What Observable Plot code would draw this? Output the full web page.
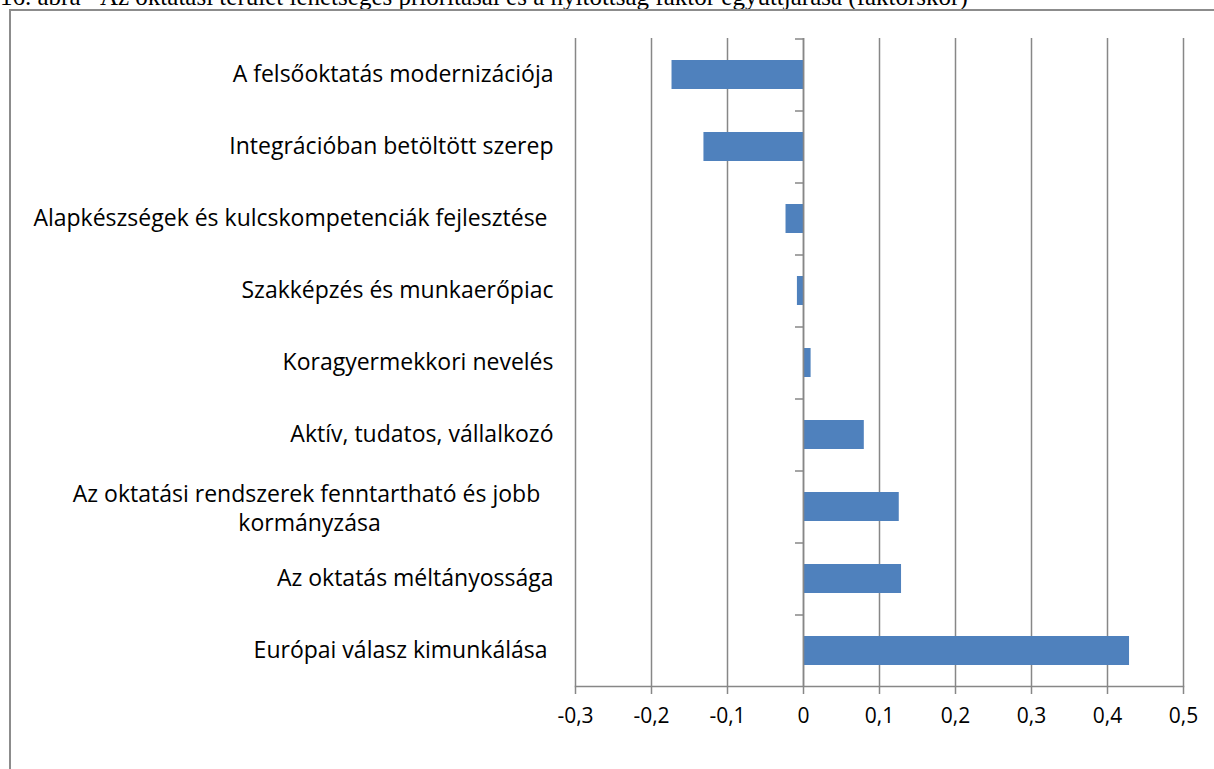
<!DOCTYPE html>
<html>
<head>
<meta charset="utf-8">
<script src="https://cdn.jsdelivr.net/npm/d3@7"></script>
<script src="https://cdn.jsdelivr.net/npm/@observablehq/plot@0.6"></script>
<style>
  html, body { margin: 0; padding: 0; background: #fff; overflow: hidden; }
  #wrap { position: relative; width: 1214px; height: 769px; overflow: hidden; }
  #title { position: absolute; left: 0; top: -16px; font-family: "Liberation Serif", "Times New Roman", serif; font-size: 25px; line-height: 25px; white-space: nowrap; color: #000; }
  #frame { position: absolute; left: 9px; top: 9px; right: -10px; bottom: -10px; border: 2px solid #8c8c8c; }
  #chart { position: absolute; left: 0; top: 0; }
  .ylab text { white-space: pre; }
</style>
</head>
<body>
<div id="wrap">
  <div id="title">16. ábra - Az oktatási terület lehetséges prioritásai és a nyitottság faktor együttjárása (faktorskór)</div>
  <div id="frame"></div>
  <div id="chart"></div>
</div>
<script>
const categories = [
  "A felsőoktatás modernizációja",
  "Integrációban betöltött szerep",
  "Alapkészségek és kulcskompetenciák fejlesztése ",
  "Szakképzés és munkaerőpiac",
  "Koragyermekkori nevelés",
  "Aktív, tudatos, vállalkozó",
  "Az oktatási rendszerek fenntartható és jobb \nkormányzása",
  "Az oktatás méltányossága",
  "Európai válasz kimunkálása "
];
const values = [-0.173, -0.131, -0.023, -0.008, 0.010, 0.080, 0.126, 0.129, 0.429];
const xTicks = [-0.3, -0.2, -0.1, 0, 0.1, 0.2, 0.3, 0.4, 0.5];

const data = categories.map((c, i) => ({category: c, value: values[i]}));
const singleLine = data.filter(d => !d.category.includes("\n"));
const multiLine = data.filter(d => d.category.includes("\n"));

const W = 1214, H = 769;
const mT = 38, mB = 83, mL = 575, mR = 31;
const step = (H - mT - mB) / categories.length;
const grid = "#878787";
const fontFam = "'Open Sans', 'Noto Sans', sans-serif";
const fmt = d => String(Math.round(d * 10) / 10).replace(".", ",");

const chart = Plot.plot({
  width: W,
  height: H,
  marginTop: mT,
  marginBottom: mB,
  marginLeft: mL,
  marginRight: mR,
  style: {fontFamily: fontFam, background: "transparent", overflow: "visible"},
  x: {type: "linear", domain: [-0.3, 0.5], ticks: xTicks},
  y: {type: "band", domain: categories, paddingInner: 0.6, paddingOuter: 0.3, axis: null},
  marks: [
    Plot.gridX(xTicks, {stroke: grid, strokeOpacity: 1, strokeWidth: 1.5}),
    Plot.barX(data, {x: "value", y: "category", fill: "#4f81bd"}),
    Plot.ruleX([0], {stroke: grid, strokeWidth: 1.5}),
    Plot.ruleY(categories, {y: d => d, x1: 0, x2: 0, insetLeft: -8, dy: -step / 2, stroke: grid, strokeWidth: 1.5}),
    Plot.frame({anchor: "bottom", stroke: grid, strokeWidth: 1.5}),
    Plot.axisX({ticks: xTicks, tickFormat: fmt, tickSize: 8, tickPadding: 14, stroke: grid, strokeWidth: 1.5, strokeOpacity: 1, fontSize: 21, fill: "#000", label: null}),
    Plot.text(singleLine, {y: "category", text: "category", frameAnchor: "left", dx: -22, textAnchor: "end", fontSize: 23, fill: "#000", className: "ylab"}),
    Plot.text(multiLine, {y: "category", text: "category", frameAnchor: "left", dx: -266, textAnchor: "middle", fontSize: 23, lineHeight: 1.25, fill: "#000", className: "ylab2"})
  ]
});
document.getElementById("chart").appendChild(chart);
</script>
</body>
</html>
